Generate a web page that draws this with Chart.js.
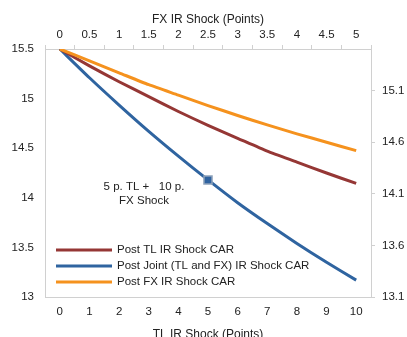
<!DOCTYPE html>
<html>
<head>
<meta charset="utf-8">
<script src="https://cdn.jsdelivr.net/npm/chart.js@4/dist/chart.umd.min.js"></script>
<style>
  html, body { margin: 0; padding: 0; background: #fff; overflow: hidden; }
  canvas { display: block; }
</style>
</head>
<body>
<canvas id="c" width="407" height="337"></canvas>
<script>
// ---- data ----
const tlLabels = ['0','1','2','3','4','5','6','7','8','9','10'];
const fxLabels = ['0','0.5','1','1.5','2','2.5','3','3.5','4','4.5','5'];
const rightTicks = [13.1, 13.6, 14.1, 14.6, 15.1];
const seriesNames = ['Post TL IR Shock CAR', 'Post Joint (TL and FX) IR Shock CAR', 'Post FX IR Shock CAR'];
const tlCar    = [15.5, 15.33, 15.17, 15.02, 14.87, 14.73, 14.60, 14.47, 14.36, 14.25, 14.145];
const jointCar = [15.5, 15.21, 14.935, 14.67, 14.42, 14.18, 13.95, 13.74, 13.54, 13.35, 13.17];
const fxCar    = [15.5, 15.38, 15.26, 15.14, 15.035, 14.93, 14.83, 14.735, 14.645, 14.56, 14.475];
const markerIndex = 5;
const annotationLines = ['5 p. TL +   10 p.', 'FX Shock'];

const FONT = 'Liberation Sans, Arial, sans-serif';
const TXT = '#222222';
const AXIS = '#d0d0d0';
const colors = ['#953735', '#2F64A0', '#F5921E'];

const fmt = v => String(Math.round(v * 10) / 10);

const overlay = {
  id: 'overlay',
  afterDatasetsDraw(chart) {
    const ctx = chart.ctx;
    ctx.save();
    // legend
    ctx.font = '11.5px ' + FONT;
    ctx.textBaseline = 'middle';
    ctx.textAlign = 'left';
    const ys = [250, 266, 282];
    chart.data.datasets.forEach((ds, i) => {
      ctx.strokeStyle = ds.borderColor;
      ctx.lineWidth = 3;
      ctx.beginPath();
      ctx.moveTo(56, ys[i]);
      ctx.lineTo(112, ys[i]);
      ctx.stroke();
      ctx.fillStyle = TXT;
      ctx.fillText(ds.label, 117, ys[i]);
    });
    // annotation
    ctx.font = '11.5px ' + FONT;
    ctx.textAlign = 'center';
    ctx.fillText(annotationLines[0], 144, 187);
    ctx.fillText(annotationLines[1], 144, 201);
    ctx.restore();
  }
};

new Chart(document.getElementById('c'), {
  type: 'line',
  data: {
    labels: tlLabels,
    datasets: [
      { label: seriesNames[0], data: tlCar, borderColor: colors[0], backgroundColor: colors[0],
        borderWidth: 3, pointRadius: 0, order: 1, tension: 0.2 },
      { label: seriesNames[1], data: jointCar, borderColor: colors[1], backgroundColor: '#2F63A0',
        borderWidth: 3, order: 2, tension: 0.2,
        pointStyle: 'rect',
        pointRadius: ctx => ctx.dataIndex === markerIndex ? 5.7 : 0,
        pointBorderColor: '#8FA3BB', pointBorderWidth: 1.5, pointBackgroundColor: '#2F63A0' },
      { label: seriesNames[2], data: fxCar, borderColor: colors[2], backgroundColor: colors[2],
        borderWidth: 3, pointRadius: 0, order: 0, tension: 0.2 }
    ]
  },
  options: {
    responsive: false,
    devicePixelRatio: 1,
    animation: false,
    layout: { padding: 0 },
    plugins: { legend: { display: false }, tooltip: { enabled: false } },
    scales: {
      x: {
        type: 'category', position: 'bottom', offset: true,
        grid: { display: true, drawOnChartArea: false, drawTicks: false, offset: true, color: AXIS },
        border: { display: true, color: AXIS, width: 1 },
        ticks: { color: TXT, font: { family: FONT, size: 11.5 }, padding: 8, maxRotation: 0, autoSkip: false },
        title: { display: true, text: 'TL IR Shock (Points)', color: TXT, font: { family: FONT, size: 12 }, padding: { top: 0, bottom: -4.5 } },
        afterFit: s => { s.height = 40; }
      },
      x2: {
        type: 'category', position: 'top', offset: true, labels: fxLabels,
        grid: { display: true, drawOnChartArea: false, drawTicks: true, tickLength: 4, offset: true, color: AXIS },
        border: { display: true, color: AXIS, width: 1 },
        ticks: { color: TXT, font: { family: FONT, size: 11.5 }, padding: 3, maxRotation: 0, autoSkip: false },
        title: { display: true, text: 'FX IR Shock (Points)', color: TXT, font: { family: FONT, size: 12 }, padding: { top: 12, bottom: 0 } },
        afterFit: s => { s.height = 49; }
      },
      y: {
        type: 'linear', position: 'left', min: 13, max: 15.5,
        grid: { display: true, drawOnChartArea: false, drawTicks: false, color: AXIS },
        border: { display: true, color: AXIS, width: 1 },
        ticks: { stepSize: 0.5, color: TXT, font: { family: FONT, size: 11.5 }, padding: 11, callback: v => fmt(v) },
        afterFit: s => { s.width = 45; }
      },
      y2: {
        type: 'linear', position: 'right', min: 13.1, max: 15.5,
        grid: { display: true, drawOnChartArea: false, drawTicks: true, tickLength: 4, color: AXIS },
        border: { display: true, color: AXIS, width: 1 },
        ticks: { color: TXT, font: { family: FONT, size: 11.5 }, padding: 7, callback: v => fmt(v) },
        afterBuildTicks: s => { s.ticks = rightTicks.map(v => ({ value: v })); },
        afterFit: s => { s.width = 36; }
      }
    }
  },
  plugins: [overlay]
});
</script>
</body>
</html>
